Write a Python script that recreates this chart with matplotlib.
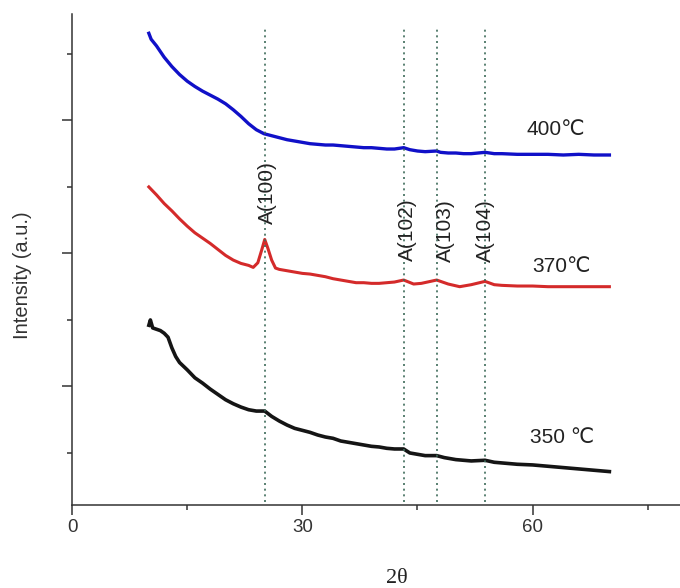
import numpy as np
import matplotlib
matplotlib.use('Agg')
import matplotlib.pyplot as plt
from matplotlib.ticker import MultipleLocator

plt.rcParams['font.family'] = ['Liberation Sans', 'DejaVu Sans']

# 400 C trace (blue)
x_400 = [10, 10.3, 11, 12, 13, 14, 15, 16, 17, 18, 19, 20, 21, 22, 23, 24, 25, 26,
         27, 28, 29, 30, 31, 32, 33, 34, 35, 36, 37, 38, 39, 40, 41, 42, 43.2, 44,
         45, 46, 47.5, 48, 49, 50, 51, 52, 53.8, 55, 56, 58, 60, 62, 64, 66, 68, 70]
y_400 = [731, 722, 712, 695, 681, 669, 659, 651, 644, 638, 632, 625, 616, 606, 595,
         586, 580, 577, 574, 571, 569, 567, 565, 564, 563, 563, 562, 561, 560, 559,
         559, 558, 557, 557, 559, 556, 554, 553, 554, 552, 551, 551, 550, 550, 552,
         550, 550, 549, 549, 549, 548, 549, 548, 548]

# 370 C trace (red)
x_370 = [10, 11, 12, 13, 14, 15, 16, 17, 18, 19, 20, 21, 22, 23, 23.6, 24.2, 24.7,
         25.1, 25.5, 26, 26.5, 27, 28, 29, 30, 31, 32, 33, 34, 35, 36, 37, 38, 39,
         40, 41, 42, 43.2, 44.5, 45.5, 47.5, 49, 50.5, 52, 53.8, 55, 56, 58, 60,
         62, 64, 66, 68, 70]
y_370 = [500, 488, 475, 464, 452, 441, 431, 423, 415, 406, 397, 390, 385, 382, 379,
         386, 405, 421, 408, 390, 378, 376, 374, 372, 370, 369, 367, 365, 362, 360,
         358, 356, 356, 355, 355, 356, 357, 360, 354, 355, 360, 354, 350, 353, 358,
         353, 352, 351, 351, 350, 350, 350, 350, 350]

# 350 C trace (black)
x_350 = [10, 10.2, 10.5, 11, 11.5, 12, 12.5, 13, 13.5, 14, 15, 16, 17, 18, 19, 20,
         21, 22, 23, 24, 25.1, 26, 27, 28, 29, 30, 31, 32, 33, 34, 35, 36, 37, 38,
         39, 40, 41, 42, 43.2, 44, 45, 46, 47.5, 48.5, 50, 51, 52, 53.8, 55, 56,
         58, 60, 62, 64, 66, 68, 70]
y_350 = [292, 300, 288, 286, 284, 280, 274, 258, 245, 236, 225, 213, 205, 196, 188,
         180, 174, 169, 165, 163, 163, 155, 148, 142, 137, 134, 131, 127, 124, 122,
         118, 116, 114, 112, 110, 109, 107, 106, 106, 100, 98, 96, 96, 93, 90, 89,
         88, 89, 86, 85, 83, 82, 80, 78, 76, 74, 72]

peak_pos = [25.1, 43.2, 47.5, 53.8]
peak_labels = ['A(100)', 'A(102)', 'A(103)', 'A(104)']
peak_label_x = [25.4, 43.7, 48.6, 53.9]
peak_label_y = [491, 435, 435, 435]

temp_labels = ['400\u2103', '370\u2103', '350 \u2103']
temp_label_x = [59.2, 60.0, 59.6]
temp_label_y = [586, 380, 124]

fig = plt.figure(figsize=(6.8, 5.88), dpi=100)
ax = fig.add_axes([0.106, 0.1412, 0.894, 0.835])

ax.plot(x_400, y_400, color='#1010c8', lw=2.4)
ax.plot(x_370, y_370, color='#d42a2a', lw=2.2)
ax.plot(x_350, y_350, color='#151515', lw=2.6)

for xp in peak_pos:
    ax.plot([xp, xp], [0, 739], color='#3d6b5a', lw=1.2, ls=(0, (1.2, 2.2)))

for lab, xl, yl in zip(peak_labels, peak_label_x, peak_label_y):
    ax.text(xl, yl, lab, rotation=90, ha='center', va='center',
            fontsize=15, color='#222222')

for lab, xl, yl in zip(temp_labels, temp_label_x, temp_label_y):
    ax.text(xl, yl, lab, ha='left', va='center', fontsize=15, color='#222222')

ax.set_xlim(0, 79.2)
ax.set_ylim(21.8, 760)
ax.xaxis.set_major_locator(MultipleLocator(30))
ax.xaxis.set_minor_locator(MultipleLocator(15))
ax.yaxis.set_major_locator(MultipleLocator(200))
ax.yaxis.set_minor_locator(MultipleLocator(100))
ax.tick_params(which='major', length=7, width=1.1, color='#333333',
               labelsize=13.5, labelcolor='#333333', pad=3)
ax.tick_params(which='minor', length=3.6, width=1.1, color='#333333')
ax.tick_params(axis='y', which='both', labelleft=False)

for side in ['top', 'right']:
    ax.spines[side].set_visible(False)
for side in ['left', 'bottom']:
    ax.spines[side].set_color('#333333')
    ax.spines[side].set_linewidth(1.1)

ax.text(-0.082, 0.468, 'Intensity (a.u.)', transform=ax.transAxes, rotation=90,
        ha='center', va='center', fontsize=14.5, color='#333333')
ax.text(0.535, -0.149, '2\u03b8', transform=ax.transAxes, ha='center', va='center',
        fontsize=16, color='#222222', family='Liberation Serif')

fig.savefig('out.png', dpi=100)
